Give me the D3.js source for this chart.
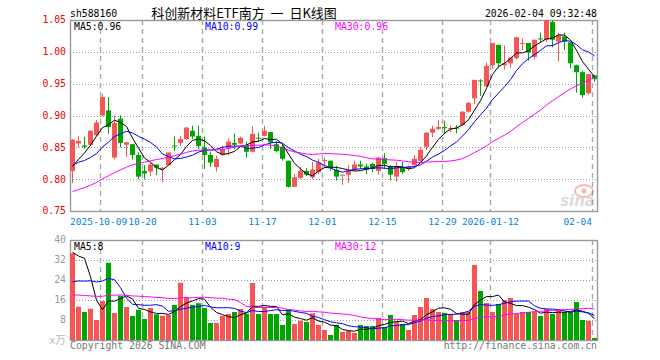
<!DOCTYPE html>
<html>
<head>
<meta charset="utf-8">
<script src="https://cdn.jsdelivr.net/npm/d3@7"></script>
<style>
  body { margin: 0; background: #fff; }
  svg { display: block; }
  .mono { font-family: "DejaVu Sans Mono", monospace; font-size: 9.8px; }
</style>
</head>
<body>
<script>
// daily candles, 2025-09-24 .. 2026-02-04
var open  = [0.813,0.856,0.853,0.854,0.869,0.900,0.908,0.834,0.895,0.854,0.855,0.838,0.813,0.812,0.823,0.816,0.822,0.853,0.857,0.863,
             0.876,0.868,0.850,0.838,0.819,0.838,0.848,0.857,0.856,0.853,0.843,0.865,0.868,0.874,0.855,0.851,0.829,0.788,0.802,0.813,
             0.803,0.811,0.829,0.829,0.815,0.806,0.807,0.815,0.823,0.820,0.824,0.813,0.833,0.820,0.804,0.819,0.816,0.822,0.829,0.851,
             0.873,0.879,0.882,0.879,0.881,0.885,0.906,0.927,0.955,0.946,0.979,1.011,0.979,0.982,0.990,1.013,1.014,0.992,1.021,1.019,
             1.047,1.016,1.024,1.015,0.979,0.968,0.935,0.963];
var close = [0.862,0.860,0.851,0.876,0.889,0.929,0.882,0.888,0.857,0.858,0.838,0.804,0.809,0.823,0.818,0.818,0.842,0.852,0.863,0.881,
             0.867,0.852,0.838,0.826,0.832,0.847,0.859,0.854,0.865,0.843,0.871,0.864,0.876,0.858,0.844,0.832,0.788,0.803,0.813,0.807,
             0.815,0.826,0.830,0.817,0.804,0.807,0.813,0.823,0.820,0.815,0.816,0.834,0.824,0.807,0.820,0.811,0.820,0.832,0.846,0.873,
             0.879,0.882,0.880,0.880,0.880,0.906,0.920,0.956,0.954,0.978,1.014,0.982,0.982,0.991,1.023,1.014,0.999,1.019,1.020,1.050,
             1.019,1.026,1.016,0.982,0.968,0.932,0.965,0.957];
var high  = [0.863,0.868,0.867,0.877,0.893,0.934,0.929,0.900,0.900,0.858,0.855,0.842,0.822,0.826,0.823,0.819,0.842,0.867,0.868,0.882,
             0.884,0.884,0.867,0.843,0.837,0.853,0.864,0.872,0.867,0.859,0.883,0.873,0.884,0.874,0.860,0.855,0.829,0.808,0.819,0.817,
             0.827,0.832,0.834,0.829,0.821,0.807,0.822,0.829,0.829,0.824,0.826,0.835,0.841,0.822,0.827,0.827,0.822,0.838,0.850,0.874,
             0.884,0.893,0.892,0.884,0.885,0.907,0.921,0.956,0.957,0.983,1.014,1.011,1.010,0.991,1.023,1.021,1.014,1.019,1.030,1.052,
             1.049,1.030,1.030,1.015,0.980,0.970,0.965,0.963];
var low   = [0.794,0.850,0.848,0.852,0.868,0.899,0.871,0.831,0.850,0.835,0.831,0.800,0.800,0.805,0.806,0.795,0.822,0.844,0.852,0.862,
             0.863,0.847,0.816,0.819,0.812,0.836,0.837,0.847,0.855,0.834,0.842,0.859,0.867,0.847,0.842,0.829,0.787,0.788,0.800,0.805,
             0.800,0.808,0.819,0.813,0.798,0.791,0.794,0.813,0.816,0.808,0.811,0.807,0.816,0.798,0.796,0.808,0.813,0.820,0.827,0.846,
             0.866,0.877,0.871,0.874,0.872,0.884,0.905,0.918,0.931,0.945,0.973,0.975,0.972,0.975,0.988,1.002,0.986,0.988,1.014,1.016,
             1.007,0.985,1.002,0.974,0.936,0.928,0.933,0.953];
// volume, 万手
var volume = [34.7,13.3,11.2,12.5,8.0,15.6,30.9,10.8,17.7,13.2,9.6,12.1,8.4,12.8,10.3,9.7,10.0,14.0,22.9,17.2,
              14.0,14.7,12.8,6.8,6.8,9.7,10.4,11.2,12.4,10.5,22.8,10.4,13.1,10.4,10.4,6.0,12.4,6.4,7.7,7.2,
              10.7,6.0,4.0,2.0,6.0,3.2,3.6,2.8,6.0,5.6,5.6,8.8,5.2,10.0,7.2,6.4,4.0,10.0,13.2,16.8,
              12.4,11.2,10.8,10.4,8.0,11.2,11.2,30.0,19.6,14.8,11.2,14.4,16.0,16.8,10.4,11.2,11.2,11.2,9.6,12.4,
              10.4,12.0,11.2,11.2,15.2,8.0,7.6,0.8];
// 29 sessions before the first candle (only used for the moving averages)
var histCloses = [0.768,0.762,0.758,0.760,0.759,0.742,0.735,0.728,0.730,0.728,0.738,0.750,0.757,0.762,0.770,
                  0.778,0.783,0.790,0.797,0.803,0.815,0.822,0.828,0.830,0.825,0.805,0.800,0.815,0.818];
var histVolume = [14,16,18,13,15,17,12,14,19,16,15,13,17,16,14,18,15,16,14,15,
                  10,12,11,13,11.5,20.8,15.7,49.5,54.8];

var priceTicks = [0.75,0.80,0.85,0.90,0.95,1.00,1.05];
var volTicks = [8,16,24,32,40];
var dateIdx = [5,12,22,32,42,52,62,70,87];
var dateLabels = ["2025-10-09","10-20","11-03","11-17","12-01","12-15","12-29","2026-01-12","02-04"];

var RED = "#f45656", GREEN = "#00a600";
var n = close.length;

var svg = d3.select("body").append("svg")
    .attr("width", 660)
    .attr("height", 360);
svg.append("rect").attr("width", 660).attr("height", 360).attr("fill", "#fff");

var left = 70, right = 597;
var x = d3.scaleBand().domain(d3.range(n)).range([left, left + 6 * n]);
var y = d3.scaleLinear().domain([0.75, 1.05]).range([211, 20]);
var yv = d3.scaleLinear().domain([0, 40]).range([340, 240]);

function movingAvg(hist, cur, k) {
    var all = hist.concat(cur), h = hist.length;
    return cur.map(function (d, i) {
        return d3.mean(all.slice(h + i - k + 1, h + i + 1));
    });
}
var ma = [5, 10, 30].map(function (k) { return movingAvg(histCloses, close, k); });
var vma = [5, 10, 30].map(function (k) { return movingAvg(histVolume, volume, k); });
var maColor = ["#000", "#0000ff", "#ff00ff"];

var defs = svg.append("defs");
defs.append("clipPath").attr("id", "clipP").append("rect")
    .attr("x", left).attr("y", 20).attr("width", right - left).attr("height", 191);
defs.append("clipPath").attr("id", "clipV").append("rect")
    .attr("x", left).attr("y", 240).attr("width", right - left).attr("height", 100);

function crisp(v) { return Math.round(v) + 0.5; }

function panelGrid(top, bottom, ys) {
    var g = svg.append("g");
    g.selectAll(".h").data(ys).enter().append("line")
        .attr("x1", left).attr("x2", right)
        .attr("y1", function (d) { return crisp(d); })
        .attr("y2", function (d) { return crisp(d); })
        .attr("stroke", "#999").attr("stroke-dasharray", "1,2");
    g.selectAll(".v").data(dateIdx).enter().append("line")
        .attr("x1", function (d) { return x(d) + 0.5; })
        .attr("x2", function (d) { return x(d) + 0.5; })
        .attr("y1", top).attr("y2", bottom)
        .attr("stroke", "#aaa").attr("stroke-width", 1.4).attr("stroke-dasharray", "5,4");
    g.append("rect")
        .attr("x", left + 0.5).attr("y", top + 0.5)
        .attr("width", right - left).attr("height", bottom - top)
        .attr("fill", "none").attr("stroke", "#999").attr("stroke-width", 1.4);
}

// ---- price panel ----
panelGrid(20, 211, priceTicks.slice(1, -1).map(y));

svg.append("g").selectAll("text").data(priceTicks).enter().append("text")
    .attr("class", "mono")
    .attr("x", 66).attr("y", function (d) { return y(d); })
    .attr("dy", "0.35em").attr("text-anchor", "end")
    .attr("fill", "#e00")
    .text(function (d) { return d.toFixed(2); });

// date labels: centred on the tick, pushed inside at the panel edges
svg.append("g").selectAll("text").data(dateIdx).enter().append("text")
    .attr("class", "mono")
    .style("font-size", "9.5px")
    .attr("x", function (d, i) {
        if (i === 0) return left;
        if (i === dateIdx.length - 1) return x(d);
        return x(d) + 0.5;
    })
    .attr("y", 225)
    .attr("text-anchor", function (d, i) {
        return i === 0 ? "start" : (i === dateIdx.length - 1 ? "end" : "middle");
    })
    .attr("fill", "#0a80d8")
    .text(function (d, i) { return dateLabels[i]; });

// watermark
var wm = svg.append("g").attr("opacity", 0.35);
wm.append("ellipse").attr("cx", 584).attr("cy", 191).attr("rx", 9).attr("ry", 6)
    .attr("fill", "none").attr("stroke", "#e33").attr("stroke-width", 2);
wm.append("circle").attr("cx", 584).attr("cy", 191).attr("r", 2.5).attr("fill", "#e33");
wm.append("text").attr("x", 595).attr("y", 206).attr("text-anchor", "end")
    .attr("font-family", "DejaVu Sans").attr("font-style", "italic").attr("font-weight", "bold")
    .attr("font-size", 15).attr("fill", "#999").text("sina");

var pg = svg.append("g").attr("clip-path", "url(#clipP)");
var candles = pg.selectAll("g.c").data(d3.range(n)).enter().append("g");
candles.append("line")
    .attr("x1", function (i) { return x(i) + 2.5; })
    .attr("x2", function (i) { return x(i) + 2.5; })
    .attr("y1", function (i) { return y(high[i]); })
    .attr("y2", function (i) { return y(low[i]); })
    .attr("stroke", function (i) { return close[i] >= open[i] ? RED : GREEN; });
candles.append("rect")
    .attr("x", function (i) { return x(i); })
    .attr("width", 5)
    .attr("y", function (i) { return y(Math.max(open[i], close[i])); })
    .attr("height", function (i) { return Math.max(1, Math.abs(y(open[i]) - y(close[i]))); })
    .attr("fill", function (i) { return close[i] >= open[i] ? RED : GREEN; });

var line = d3.line().x(function (d, i) { return x(i) + 2.5; });
ma.forEach(function (s, k) {
    pg.append("path").datum(s)
        .attr("d", line.y(function (d) { return y(d); }))
        .attr("fill", "none").attr("stroke", maColor[k]).attr("stroke-width", 1);
});

// ---- volume panel ----
panelGrid(240, 340, volTicks.slice(0, -1).map(yv));

svg.append("g").selectAll("text").data(volTicks).enter().append("text")
    .attr("class", "mono")
    .attr("x", 66).attr("y", function (d) { return yv(d); })
    .attr("dy", "0.35em").attr("text-anchor", "end")
    .attr("fill", "#999")
    .text(function (d) { return d; });
svg.append("text").attr("x", 66).attr("y", yv(0)).attr("dy", "0.35em")
    .attr("text-anchor", "end").attr("font-size", 11).attr("fill", "#bbb")
    .attr("font-family", "Noto Sans CJK SC").text("x万");

var vg = svg.append("g").attr("clip-path", "url(#clipV)");
vg.selectAll("rect").data(d3.range(n)).enter().append("rect")
    .attr("x", function (i) { return x(i); })
    .attr("width", 5)
    .attr("y", function (i) { return yv(volume[i]); })
    .attr("height", function (i) { return yv(0) - yv(volume[i]); })
    .attr("fill", function (i) { return close[i] >= open[i] ? RED : GREEN; });
vma.forEach(function (s, k) {
    vg.append("path").datum(s)
        .attr("d", line.y(function (d) { return yv(d); }))
        .attr("fill", "none").attr("stroke", maColor[k]).attr("stroke-width", 1);
});

// ---- legends / header ----
var last = n - 1;
var legX = [74, 205, 335];
["MA5:", "MA10:", "MA30:"].forEach(function (t, k) {
    svg.append("text").attr("class", "mono").attr("x", legX[k]).attr("y", 30)
        .attr("fill", maColor[k]).text(t + ma[k][last].toFixed(2));
    svg.append("text").attr("class", "mono").attr("x", legX[k]).attr("y", 250)
        .attr("fill", maColor[k]).text(t + Math.floor(vma[k][last]));
});

svg.append("text").attr("class", "mono").attr("x", 70).attr("y", 17).attr("fill", "#000").text("sh588160");
svg.append("text").attr("x", 244).attr("y", 18).attr("text-anchor", "middle")
    .attr("font-family", "Noto Sans CJK SC").attr("font-size", 13).attr("fill", "#000")
    .attr("xml:space", "preserve").style("white-space", "pre")
    .text("科创新材料ETF南方  一  日K线图");
svg.append("text").attr("class", "mono").attr("x", 597).attr("y", 17).attr("text-anchor", "end")
    .attr("fill", "#000").text("2026-02-04 09:32:48");

svg.append("text").attr("class", "mono").attr("x", 70).attr("y", 349).attr("fill", "#777")
    .text("Copyright 2026 SINA.COM");
svg.append("text").attr("class", "mono").attr("x", 597).attr("y", 349).attr("text-anchor", "end")
    .attr("fill", "#777").text("http://finance.sina.com.cn");
</script>
</body>
</html>
